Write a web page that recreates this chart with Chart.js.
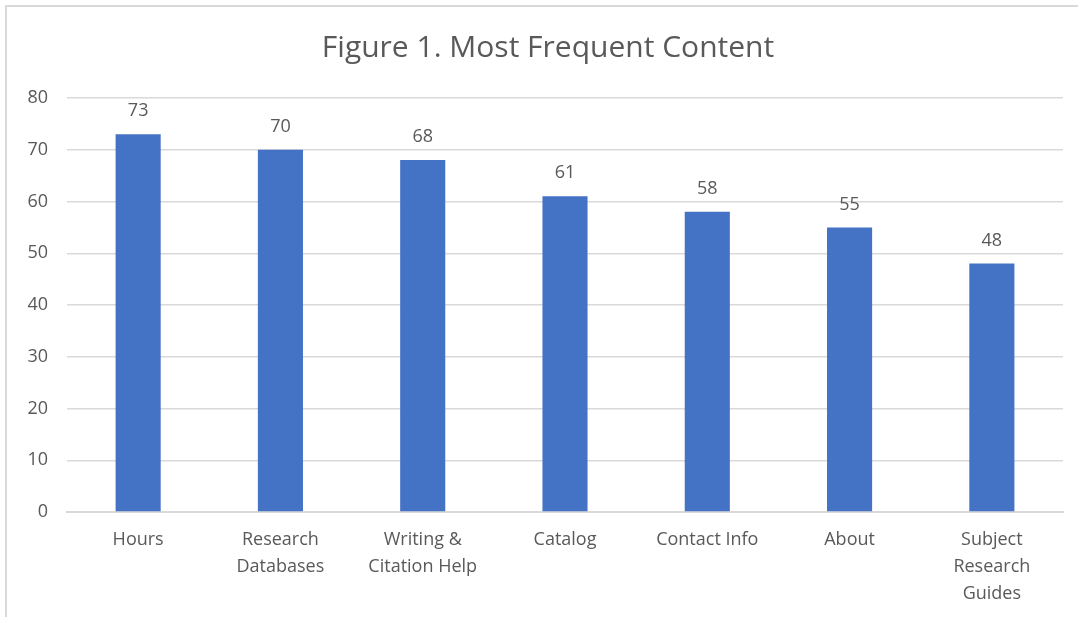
<!DOCTYPE html>
<html>
<head>
<meta charset="utf-8">
<script src="https://cdn.jsdelivr.net/npm/chart.js@4"></script>
<style>
  html, body { margin: 0; padding: 0; background: #fff; overflow: hidden; }
  #frame { position: absolute; left: 5px; top: 5px; width: 1090px; height: 630px; border: 2px solid #d9d9d9; box-sizing: border-box; }
  #wrap { position: absolute; left: 0; top: 0; width: 1078px; height: 617px; }
</style>
</head>
<body>
<div id="frame"></div>
<div id="wrap"><canvas id="c" width="1078" height="617"></canvas></div>
<script>
const categories = [
  "Hours",
  ["Research", "Databases"],
  ["Writing &", "Citation Help"],
  "Catalog",
  "Contact Info",
  "About",
  ["Subject", "Research", "Guides"]
];
const values = [73, 70, 68, 61, 58, 55, 48];
const yTicks = [0, 10, 20, 30, 40, 50, 60, 70, 80];
const titleText = "Figure 1. Most Frequent Content";

const FONT = "'Open Sans', Lato, sans-serif";
const TEXT = "#595959";

const valueLabels = {
  id: "valueLabels",
  afterDatasetsDraw(chart) {
    const ctx = chart.ctx;
    const meta = chart.getDatasetMeta(0);
    ctx.save();
    ctx.font = "18px " + FONT;
    ctx.fillStyle = TEXT;
    ctx.textAlign = "center";
    ctx.textBaseline = "middle";
    meta.data.forEach((bar, i) => {
      ctx.fillText(String(chart.data.datasets[0].data[i]), bar.x, bar.y - 23);
    });
    ctx.restore();
  }
};

new Chart(document.getElementById("c"), {
  type: "bar",
  data: {
    labels: categories,
    datasets: [{
      data: values,
      backgroundColor: "#4472C4",
      borderWidth: 0,
      barPercentage: 0.317,
      categoryPercentage: 1.0
    }]
  },
  options: {
    responsive: false,
    animation: false,
    devicePixelRatio: 1,
    layout: { padding: { left: 18, right: 0, top: 0, bottom: 0 } },
    plugins: {
      legend: { display: false },
      tooltip: { enabled: false },
      title: {
        display: true,
        text: titleText,
        color: TEXT,
        font: { family: FONT, size: 30, weight: "normal", lineHeight: 1.2 },
        padding: { top: 30, bottom: 32 }
      }
    },
    scales: {
      x: {
        grid: { display: false, drawTicks: false },
        border: { display: true, color: "#d9d9d9", width: 2 },
        ticks: {
          color: TEXT,
          font: { family: FONT, size: 18, lineHeight: 1.5 },
          padding: 14,
          maxRotation: 0,
          autoSkip: false
        },
        afterFit(scale) { scale.height = 105; }
      },
      y: {
        min: 0,
        max: 80,
        afterBuildTicks(scale) { scale.ticks = yTicks.map(v => ({ value: v })); },
        grid: { color: "#d9d9d9", lineWidth: 1.5, drawTicks: false },
        border: { display: false },
        ticks: {
          color: TEXT,
          font: { family: FONT, size: 18 },
          padding: 19
        },
        afterFit(scale) { scale.width = 49; }
      },
      yRightSpacer: {
        type: "linear",
        position: "right",
        grid: { display: false, drawTicks: false },
        border: { display: false },
        ticks: { display: false },
        afterFit(scale) { scale.width = 15; }
      }
    }
  },
  plugins: [valueLabels]
});
</script>
</body>
</html>
